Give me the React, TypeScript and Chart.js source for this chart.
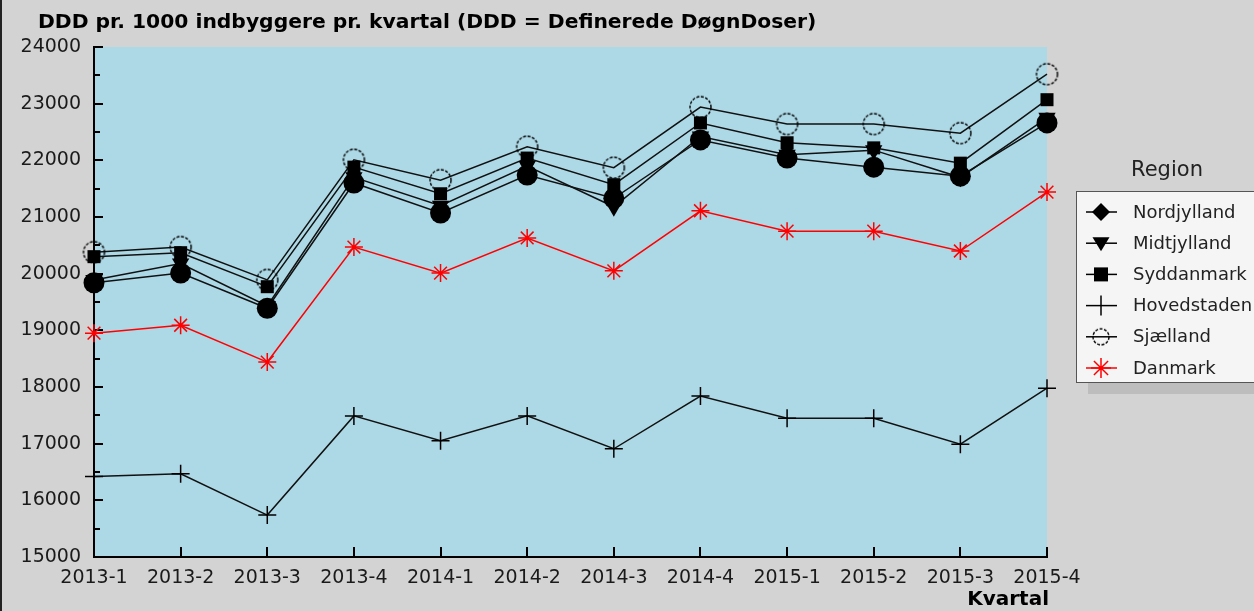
import React, { useEffect, useRef } from 'react';
import { Chart, registerables } from 'chart.js';

Chart.register(...registerables);

const categories = ['2013-1', '2013-2', '2013-3', '2013-4', '2014-1', '2014-2', '2014-3', '2014-4', '2015-1', '2015-2', '2015-3', '2015-4'];
const nordjylland = [19840, 20010, 19390, 21600, 21070, 21740, 21330, 22360, 22040, 21880, 21720, 22660];
const midtjylland = [19890, 20180, 19430, 21700, 21200, 21900, 21180, 22420, 22100, 22180, 21700, 22750];
const syddanmark = [20300, 20370, 19770, 21880, 21410, 22040, 21570, 22660, 22310, 22220, 21950, 23070];
const hovedstaden = [16420, 16470, 15740, 17490, 17050, 17490, 16910, 17840, 17450, 17450, 16990, 17980];
const sjaelland = [20380, 20470, 19890, 22010, 21650, 22240, 21870, 22940, 22640, 22640, 22480, 23520];
const danmark = [18950, 19090, 18440, 20470, 20010, 20630, 20050, 21110, 20750, 20750, 20400, 21440];
const seriesNames = ['Nordjylland', 'Midtjylland', 'Syddanmark', 'Hovedstaden', 'Sjælland', 'Danmark'];
const legendMarkers = ['diamond', 'triDown', 'square', 'plus', 'dashCircle', 'star'];
const titleText = 'DDD pr. 1000 indbyggere pr. kvartal (DDD = Definerede DøgnDoser)';
const legendTitle = 'Region';
const xAxisTitle = 'Kvartal';
const yMin = 15000;
const yMax = 24000;
const yStep = 1000;

function makeDashedCircle(r: number): HTMLCanvasElement {
  const c = document.createElement('canvas');
  const s = Math.ceil(r * 2 + 4);
  c.width = s;
  c.height = s;
  const ctx = c.getContext('2d')!;
  ctx.setLineDash([3, 1.5]);
  ctx.strokeStyle = '#000';
  ctx.lineWidth = 1.4;
  ctx.beginPath();
  ctx.arc(s / 2, s / 2, r, 0, Math.PI * 2);
  ctx.stroke();
  return c;
}

function drawMarker(ctx: CanvasRenderingContext2D, type: string, x: number, y: number, img: HTMLCanvasElement) {
  ctx.save();
  ctx.fillStyle = '#000';
  ctx.strokeStyle = '#000';
  ctx.lineWidth = 1.5;
  if (type === 'diamond') {
    ctx.beginPath();
    ctx.moveTo(x, y - 9);
    ctx.lineTo(x + 9, y);
    ctx.lineTo(x, y + 9);
    ctx.lineTo(x - 9, y);
    ctx.closePath();
    ctx.fill();
  } else if (type === 'triDown') {
    ctx.beginPath();
    ctx.moveTo(x - 8.5, y - 6);
    ctx.lineTo(x + 8.5, y - 6);
    ctx.lineTo(x, y + 8);
    ctx.closePath();
    ctx.fill();
  } else if (type === 'square') {
    ctx.fillRect(x - 7, y - 7, 14, 14);
  } else if (type === 'plus') {
    ctx.beginPath();
    ctx.moveTo(x, y - 10);
    ctx.lineTo(x, y + 10);
    ctx.stroke();
  } else if (type === 'dashCircle') {
    ctx.drawImage(img, x - img.width / 2, y - img.height / 2);
  } else if (type === 'star') {
    ctx.strokeStyle = '#ff0000';
    const r = 10;
    ctx.beginPath();
    for (let i = 0; i < 4; i++) {
      const a = (i * Math.PI) / 4;
      ctx.moveTo(x - r * Math.cos(a), y - r * Math.sin(a));
      ctx.lineTo(x + r * Math.cos(a), y + r * Math.sin(a));
    }
    ctx.stroke();
  }
  ctx.restore();
}

export default function App() {
  const ref = useRef<HTMLCanvasElement | null>(null);

  useEffect(() => {
    document.body.style.margin = '0';
    const canvas = ref.current!;
    const dashCircle = makeDashedCircle(10.5);
    const legendCircle = makeDashedCircle(8);

    const decor = {
      id: 'decor',
      beforeDraw(chart: any) {
        const { ctx, chartArea } = chart;
        ctx.save();
        ctx.fillStyle = '#d3d3d3';
        ctx.fillRect(0, 0, chart.width, chart.height);
        ctx.fillStyle = '#add8e6';
        ctx.fillRect(chartArea.left, chartArea.top, chartArea.right - chartArea.left, chartArea.bottom - chartArea.top);
        ctx.fillStyle = '#222';
        ctx.fillRect(0, 0, 2, chart.height);
        ctx.restore();
      },
      beforeDatasetsDraw(chart: any) {
        const { ctx, chartArea, scales } = chart;
        ctx.save();
        ctx.strokeStyle = '#000';
        ctx.lineWidth = 2;
        ctx.beginPath();
        for (let v = yMin; v <= yMax; v += yStep / 2) {
          const yy = Math.round(scales.y.getPixelForValue(v));
          const len = v % yStep === 0 ? 9 : 6;
          ctx.moveTo(chartArea.left, yy);
          ctx.lineTo(chartArea.left + len, yy);
        }
        categories.forEach((_, i) => {
          const xx = Math.round(scales.x.getPixelForValue(i));
          ctx.moveTo(xx, chartArea.bottom);
          ctx.lineTo(xx, chartArea.bottom - 10);
        });
        ctx.stroke();
        ctx.restore();
      },
      afterDraw(chart: any) {
        const { ctx, chartArea } = chart;
        ctx.save();
        ctx.fillStyle = '#000';
        ctx.font = 'bold 20.3px "DejaVu Sans"';
        ctx.textAlign = 'left';
        ctx.textBaseline = 'middle';
        ctx.fillText(titleText, 38, 23);
        ctx.font = 'bold 20px "DejaVu Sans"';
        ctx.textAlign = 'right';
        ctx.fillText(xAxisTitle, chartArea.right + 2, 600);
        const bx = 1076, by = 191, bw = 190, bh = 191;
        ctx.fillStyle = '#bdbdbd';
        ctx.fillRect(bx + 12, by + 12, bw, bh);
        ctx.fillStyle = '#f5f5f5';
        ctx.fillRect(bx, by, bw, bh);
        ctx.strokeStyle = '#555';
        ctx.lineWidth = 1;
        ctx.strokeRect(bx + 0.5, by + 0.5, bw, bh);
        ctx.fillStyle = '#222';
        ctx.font = '21px "DejaVu Sans"';
        ctx.textAlign = 'center';
        ctx.fillText(legendTitle, 1167, 171);
        ctx.font = '18px "DejaVu Sans"';
        ctx.textAlign = 'left';
        seriesNames.forEach((name, i) => {
          const yy = 212 + i * 31.2;
          const isRed = legendMarkers[i] === 'star';
          ctx.strokeStyle = isRed ? '#ff0000' : '#000';
          ctx.lineWidth = 1.5;
          ctx.beginPath();
          ctx.moveTo(1086, yy);
          ctx.lineTo(1117, yy);
          ctx.stroke();
          drawMarker(ctx, legendMarkers[i], 1101, yy, legendCircle);
          ctx.fillStyle = '#222';
          ctx.fillText(name, 1133, yy + 1);
        });
        ctx.restore();
      },
    };

    const chart = new Chart(canvas, {
      type: 'line',
      data: {
        labels: categories,
        datasets: [
          { label: seriesNames[0], data: nordjylland, borderColor: '#111', backgroundColor: '#000', pointStyle: 'circle', pointRadius: 10.5, pointBorderWidth: 0 },
          { label: seriesNames[1], data: midtjylland, borderColor: '#111', backgroundColor: '#000', pointStyle: 'triangle', pointRotation: 180, pointRadius: 10, pointBorderWidth: 0 },
          { label: seriesNames[2], data: syddanmark, borderColor: '#111', backgroundColor: '#000', pointStyle: 'rect', pointRadius: 9.2, pointBorderWidth: 0 },
          { label: seriesNames[3], data: hovedstaden, borderColor: '#111', backgroundColor: '#000', pointStyle: 'cross', pointRadius: 9, pointBorderWidth: 1.5, pointBorderColor: '#000' },
          { label: seriesNames[4], data: sjaelland, borderColor: '#111', backgroundColor: 'rgba(0,0,0,0)', pointStyle: dashCircle as any, pointRadius: 11 },
          { label: seriesNames[5], data: danmark, borderColor: '#ff0000', backgroundColor: '#ff0000', pointStyle: 'star', pointRadius: 9, pointBorderWidth: 1.5, pointBorderColor: '#ff0000' },
        ].map((d) => ({ ...d, borderWidth: 1.5, tension: 0, clip: false as any, fill: false })),
      },
      options: {
        animation: false,
        responsive: false,
        devicePixelRatio: 1,
        layout: { padding: { top: 47, right: 207, left: 0, bottom: 0 } },
        plugins: { legend: { display: false }, title: { display: false }, tooltip: { enabled: false } },
        scales: {
          x: {
            type: 'category',
            offset: false,
            grid: { display: false, drawTicks: false },
            border: { display: true, color: '#000', width: 2 },
            ticks: { color: '#1a1a1a', font: { family: 'DejaVu Sans', size: 19 }, padding: 10, maxRotation: 0, autoSkip: false },
            afterFit: (s: any) => { s.height = 54; },
          },
          y: {
            min: yMin,
            max: yMax,
            grid: { display: false, drawTicks: false },
            border: { display: true, color: '#000', width: 2 },
            ticks: { stepSize: yStep, color: '#1a1a1a', font: { family: 'DejaVu Sans', size: 19 }, padding: 13, callback: (v: any) => String(v) },
            afterFit: (s: any) => { s.width = 94; },
          },
        },
      },
      plugins: [decor],
    });
    return () => chart.destroy();
  }, []);

  return (
    <div style={{ width: 1254, height: 611, background: '#d3d3d3' }}>
      <canvas ref={ref} width={1254} height={611} style={{ display: 'block', width: 1254, height: 611 }} />
    </div>
  );
}
